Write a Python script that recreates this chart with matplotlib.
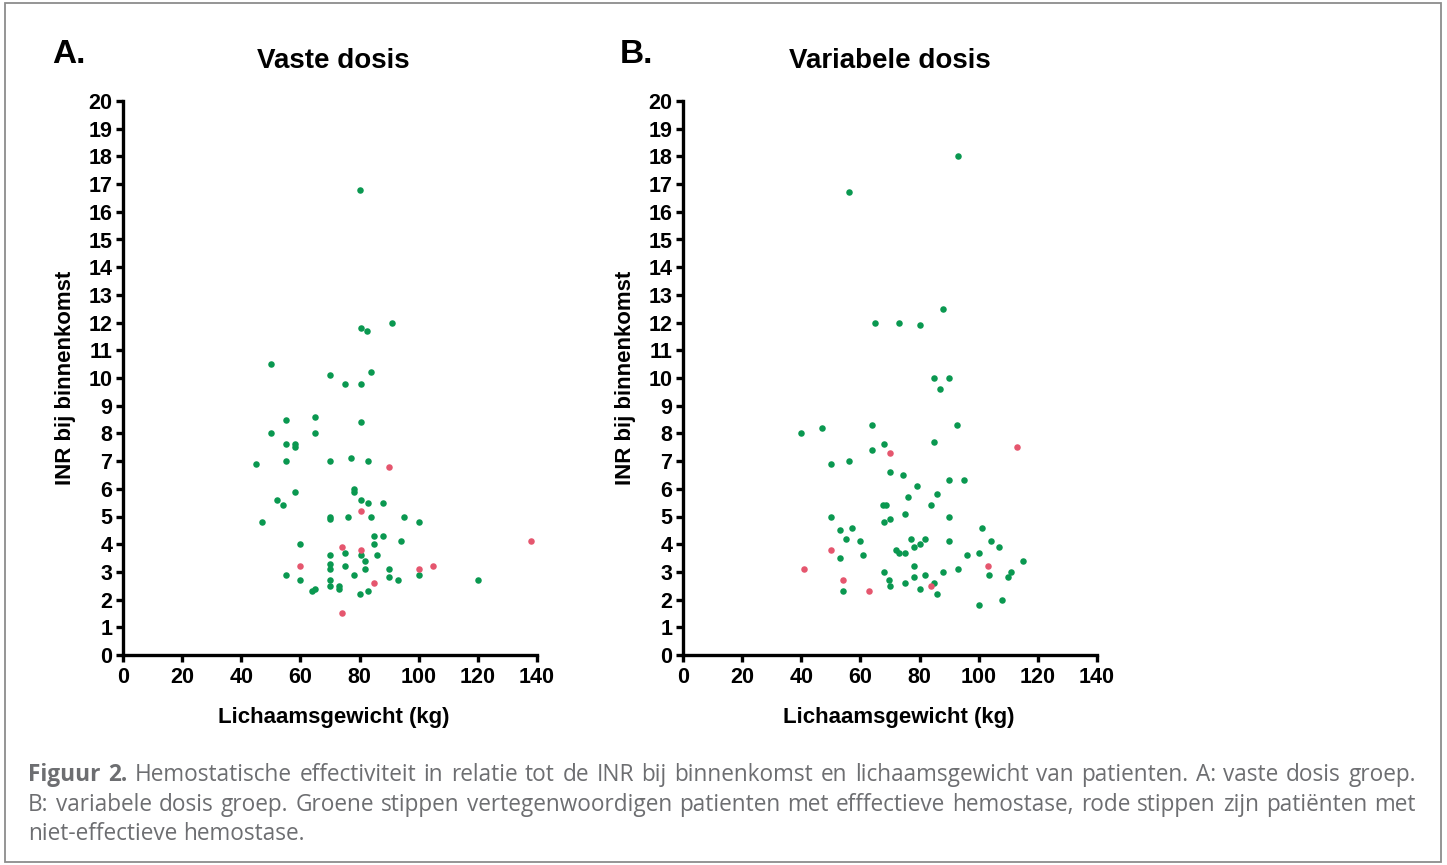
import matplotlib
matplotlib.use("Agg")
import matplotlib.pyplot as plt
from matplotlib.patches import Rectangle

# ---------------- data ----------------
# Panel A: vaste dosis
a_green_x = [80, 91, 80.5, 82.5, 50, 70, 84, 75, 80.5, 55, 65, 80.5, 50, 65, 55, 58, 58,
             45, 55, 70, 77, 83, 58, 78, 78, 52, 54, 80.5, 83, 88, 70, 70, 76, 84, 95, 100, 47,
             60, 85, 88, 85, 94, 75, 80.5, 70, 86, 82, 70, 70, 75, 82, 78, 55, 90, 90, 93, 100,
             60, 70, 70, 73, 73, 83, 80, 64, 65, 120]
a_green_y = [16.8, 12.0, 11.8, 11.7, 10.5, 10.1, 10.2, 9.8, 9.8, 8.5, 8.6, 8.4, 8.0, 8.0, 7.6, 7.6, 7.5,
             6.9, 7.0, 7.0, 7.1, 7.0, 5.9, 6.0, 5.9, 5.6, 5.4, 5.6, 5.5, 5.5, 5.0, 4.9, 5.0, 5.0, 5.0, 4.8, 4.8,
             4.0, 4.3, 4.3, 4.0, 4.1, 3.7, 3.6, 3.6, 3.6, 3.4, 3.3, 3.1, 3.2, 3.1, 2.9, 2.9, 3.1, 2.8, 2.7, 2.9,
             2.7, 2.7, 2.5, 2.5, 2.4, 2.3, 2.2, 2.3, 2.4, 2.7]
a_red_x = [90, 80.5, 74, 80.5, 60, 100, 105, 85, 74, 138]
a_red_y = [6.8, 5.2, 3.9, 3.8, 3.2, 3.1, 3.2, 2.6, 1.5, 4.1]

# Panel B: variabele dosis
b_green_x = [93, 56, 88, 65, 73, 80, 85, 90, 87, 40, 47, 64, 92.5, 85, 68, 64,
             50, 56, 70, 74.5, 79, 90, 95, 76, 86, 67.5, 68.5, 84, 50, 75, 90, 68, 70,
             53, 57, 101, 55, 60, 77, 82, 80, 78, 90, 104, 107, 72, 73, 75, 53, 61, 96, 100, 115,
             78, 68, 88, 93, 111, 103.5, 69.5, 78, 82, 110, 70, 75, 80, 85, 54, 86, 100, 108]
b_green_y = [18.0, 16.7, 12.5, 12.0, 12.0, 11.9, 10.0, 10.0, 9.6, 8.0, 8.2, 8.3, 8.3, 7.7, 7.6, 7.4,
             6.9, 7.0, 6.6, 6.5, 6.1, 6.3, 6.3, 5.7, 5.8, 5.4, 5.4, 5.4, 5.0, 5.1, 5.0, 4.8, 4.9,
             4.5, 4.6, 4.6, 4.2, 4.1, 4.2, 4.2, 4.0, 3.9, 4.1, 4.1, 3.9, 3.8, 3.7, 3.7, 3.5, 3.6, 3.6, 3.7, 3.4,
             3.2, 3.0, 3.0, 3.1, 3.0, 2.9, 2.7, 2.8, 2.9, 2.8, 2.5, 2.6, 2.4, 2.6, 2.3, 2.2, 1.8, 2.0]
b_red_x = [70, 113, 50, 41, 103, 54, 84, 63]
b_red_y = [7.3, 7.5, 3.8, 3.1, 3.2, 2.7, 2.5, 2.3]

titles = ["Vaste dosis", "Variabele dosis"]
panel_letters = ["A.", "B."]
xlabel = "Lichaamsgewicht (kg)"
ylabel = "INR bij binnenkomst"
x_ticks = [0, 20, 40, 60, 80, 100, 120, 140]
y_ticks = list(range(0, 21))

caption_lines = [
    [("Figuur", "bold"), ("2.", "bold")] + [(w, "normal") for w in
        "Hemostatische effectiviteit in relatie tot de INR bij binnenkomst en lichaamsgewicht van patienten. A: vaste dosis groep.".split()],
    [(w, "normal") for w in
        "B: variabele dosis groep. Groene stippen vertegenwoordigen patienten met efffectieve hemostase, rode stippen zijn patiënten met".split()],
    [(w, "normal") for w in "niet-effectieve hemostase.".split()],
]

# ---------------- style ----------------
W, H = 1447, 865
GREEN = "#0a9850"
RED = "#e5566e"
CHART_FONT = ["Liberation Sans", "DejaVu Sans"]
CAP_FONT = ["Open Sans", "DejaVu Sans"]
CAP_COLOR = "#6d6e71"

fig = plt.figure(figsize=(W / 100, H / 100), dpi=100)
fig.patch.set_facecolor("white")


def fx(px):
    return px / W


def fy(py):
    return 1 - py / H


axes_left = [123, 683]
ax_w, ax_top, ax_bottom = 414, 101, 655
datasets = [
    (a_green_x, a_green_y, a_red_x, a_red_y),
    (b_green_x, b_green_y, b_red_x, b_red_y),
]

for i, left in enumerate(axes_left):
    ax = fig.add_axes([fx(left), fy(ax_bottom), ax_w / W, (ax_bottom - ax_top) / H])
    gx, gy, rx, ry = datasets[i]
    ax.scatter(gx, gy, s=22, color=GREEN, linewidths=0, zorder=3, clip_on=False)
    ax.scatter(rx, ry, s=22, color=RED, linewidths=0, zorder=3, clip_on=False)
    ax.set_xlim(0, 140)
    ax.set_ylim(0, 20)
    ax.set_xticks(x_ticks)
    ax.set_yticks(y_ticks)
    for sp in ["top", "right"]:
        ax.spines[sp].set_visible(False)
    for sp in ["left", "bottom"]:
        ax.spines[sp].set_linewidth(2.4)
        ax.spines[sp].set_color("black")
    ax.tick_params(axis="both", length=5, width=2.4, color="black", pad=2.5,
                   labelsize=15.5)
    ax.tick_params(axis="x", pad=3.5)
    for lab in ax.get_xticklabels() + ax.get_yticklabels():
        lab.set_fontfamily(CHART_FONT)
        lab.set_fontweight("bold")
    ax.set_facecolor("white")

# titles, letters, labels
title_cx = [333, 889.5]
letter_x = [52, 620]
xlabel_cx = [334, 898.5]
ylabel_cx = [66, 626]
for i in range(2):
    fig.text(fx(title_cx[i]), fy(68), titles[i], ha="center", va="baseline",
             fontsize=20, fontweight="bold", family=CHART_FONT)
    fig.text(fx(letter_x[i]), fy(63), panel_letters[i], ha="left", va="baseline",
             fontsize=24, fontweight="bold", family=CHART_FONT)
    fig.text(fx(xlabel_cx[i]), fy(723), xlabel, ha="center", va="baseline",
             fontsize=16, fontweight="bold", family=CHART_FONT)
    fig.text(fx(ylabel_cx[i]), fy(378), ylabel, ha="center", va="center", rotation=90,
             fontsize=16, fontweight="bold", family=CHART_FONT)

# border
fig.patches.append(Rectangle((fx(5), fy(862)), (1441 - 5) / W, (862 - 3) / H,
                             transform=fig.transFigure, fill=False,
                             edgecolor="#8c8c8c", linewidth=1.3))

# caption (justified)
renderer = fig.canvas.get_renderer()
cap_x0, cap_x1 = 28, 1416
cap_baselines = [781, 811, 840]


def measure(words, size):
    widths = []
    for w, wt in words:
        t = fig.text(0, 0, w, fontsize=size, fontweight=wt, family=CAP_FONT)
        widths.append(t.get_window_extent(renderer).width)
        t.remove()
    return widths


cap_size = 17
while True:
    sp_t = fig.text(0, 0, "a a", fontsize=cap_size, family=CAP_FONT)
    sp2 = fig.text(0, 0, "aa", fontsize=cap_size, family=CAP_FONT)
    space_w = sp_t.get_window_extent(renderer).width - sp2.get_window_extent(renderer).width
    sp_t.remove(); sp2.remove()
    ok = True
    for line in caption_lines[:2]:
        ws = measure(line, cap_size)
        if sum(ws) + space_w * (len(ws) - 1) > (cap_x1 - cap_x0):
            ok = False
    if ok:
        break
    cap_size -= 0.25

for li, line in enumerate(caption_lines):
    ws = measure(line, cap_size)
    if li < 2:
        gap = ((cap_x1 - cap_x0) - sum(ws)) / (len(ws) - 1)
    else:
        gap = space_w
    x = cap_x0
    for (w, wt), wd in zip(line, ws):
        fig.text(fx(x), fy(cap_baselines[li]), w, ha="left", va="baseline",
                 fontsize=cap_size, fontweight=wt, family=CAP_FONT, color=CAP_COLOR)
        x += wd + gap

fig.savefig("out.png", dpi=100, facecolor="white")
